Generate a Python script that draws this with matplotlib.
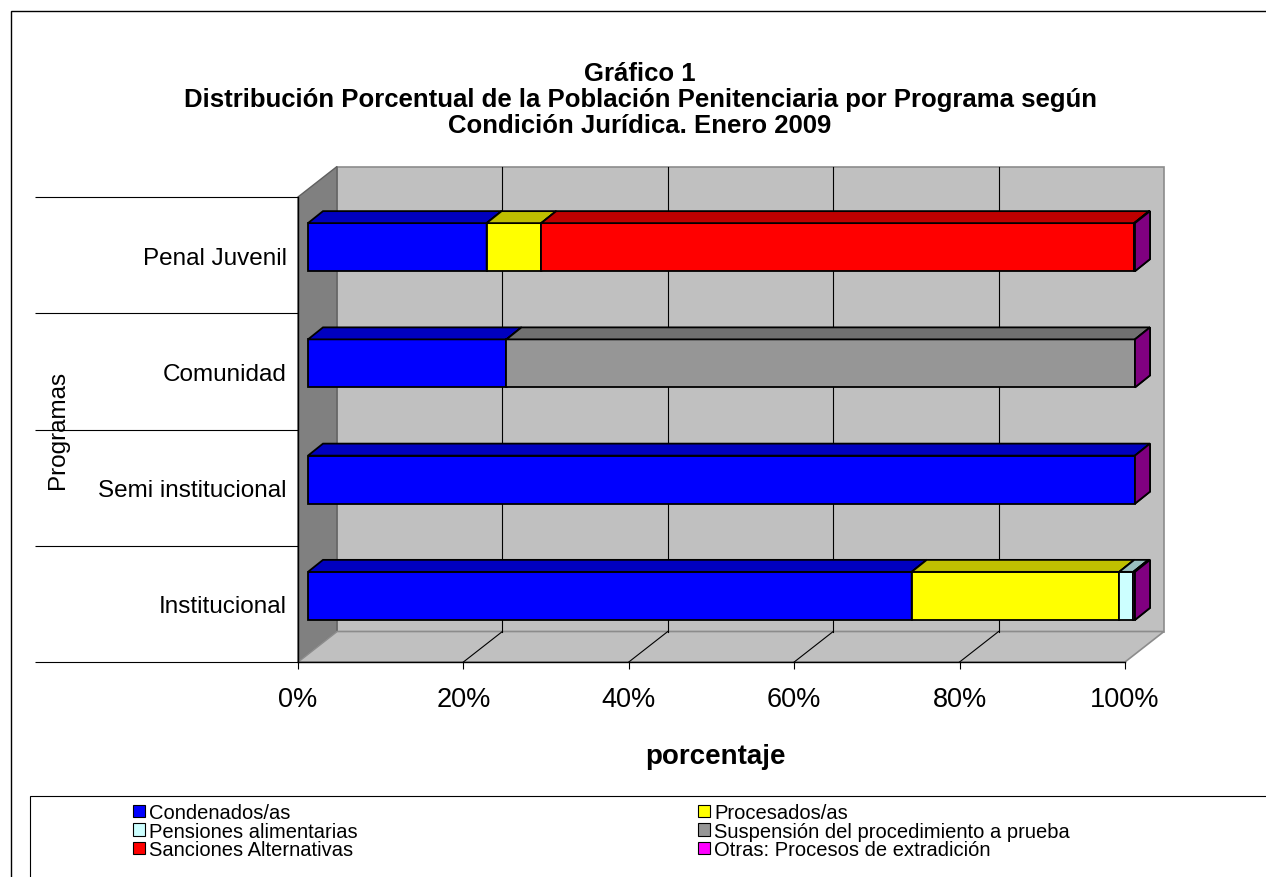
import numpy as np
import matplotlib.pyplot as plt
from matplotlib.patches import Polygon, Rectangle, Patch
from matplotlib.colors import to_rgb

# ---- datos ----
programas = ["Institucional", "Semi institucional", "Comunidad", "Penal Juvenil"]
series = ["Condenados/as", "Procesados/as", "Pensiones alimentarias",
          "Suspensión del procedimiento a prueba", "Sanciones Alternativas",
          "Otras: Procesos de extradición"]
condenados = [73.0, 100.0, 24.0, 21.6]
procesados = [25.1, 0.0, 0.0, 6.6]
pensiones = [1.7, 0.0, 0.0, 0.0]
suspension = [0.0, 0.0, 76.0, 0.0]
sanciones = [0.0, 0.0, 0.0, 71.7]
otras = [0.2, 0.0, 0.0, 0.1]
xticks = [0, 20, 40, 60, 80, 100]
xtick_labels = ["0%", "20%", "40%", "60%", "80%", "100%"]

colores = ["#0000FF", "#FFFF00", "#CCFFFF", "#969696", "#FF0000", "#FF00FF"]

# ---- geometria (pixeles de la figura) ----
W, H = 1266, 878
plt.rcParams['font.family'] = ['Liberation Sans', 'DejaVu Sans']

fig = plt.figure(figsize=(W / 100, H / 100), dpi=100)
ax = fig.add_axes([298 / W, 1 - 663 / H, (1125 - 298) / W, (663 - 198) / H])
ax.set_xlim(0, 100)
ax.set_ylim(0, 4)

sx = (1125 - 298) / 100.0      # px por unidad x
sy = (663 - 198) / 4.0         # px por unidad y
DX, DY = 39 / sx, 30.5 / sy    # profundidad total
fdx, fdy = 10 / sx, 8 / sy     # cara frontal de la barra
bdx, bdy = 15 / sx, 12 / sy    # profundidad de la barra
bar_h = 48 / sy


def shade(c, f):
    return tuple(v * f for v in to_rgb(c))


# paredes
ax.add_patch(Polygon([(DX, DY), (100 + DX, DY), (100 + DX, 4 + DY), (DX, 4 + DY)],
                     closed=True, fc="#C0C0C0", ec="#8C8C8C", lw=1.2, zorder=0, clip_on=False))
ax.add_patch(Polygon([(0, 0), (DX, DY), (DX, 4 + DY), (0, 4)],
                     closed=True, fc="#808080", ec="#606060", lw=1.0, zorder=0.5, clip_on=False))
ax.add_patch(Polygon([(0, 0), (100, 0), (100 + DX, DY), (DX, DY)],
                     closed=True, fc="#C0C0C0", ec="#8C8C8C", lw=1.2, zorder=0.5, clip_on=False))
for x in xticks[1:-1]:
    ax.plot([x + DX, x + DX], [DY, 4 + DY], color="black", lw=0.8, zorder=1, clip_on=False)
    ax.plot([x, x + DX], [0, DY], color="black", lw=0.8, zorder=1, clip_on=False)

# barras 3D
datos = [condenados, procesados, pensiones, suspension, sanciones, otras]
y = np.arange(len(programas)) + 0.5 + fdy
left = np.zeros(len(programas)) + fdx
for vals, col in zip(datos, colores):
    vals = np.array(vals)
    ax.barh(y, vals, left=left, height=bar_h, color=col, edgecolor="black",
            linewidth=1.3, zorder=3, clip_on=False)
    for i, v in enumerate(vals):
        if v <= 0:
            continue
        x0, x1 = left[i], left[i] + v
        yb, yt = y[i] - bar_h / 2, y[i] + bar_h / 2
        ax.add_patch(Polygon([(x0, yt), (x1, yt), (x1 + bdx, yt + bdy), (x0 + bdx, yt + bdy)],
                             closed=True, fc=shade(col, 0.75), ec="black", lw=1.3,
                             zorder=3, clip_on=False))
        ax.add_patch(Polygon([(x1, yb), (x1, yt), (x1 + bdx, yt + bdy), (x1 + bdx, yb + bdy)],
                             closed=True, fc=shade(col, 0.5), ec="black", lw=1.3,
                             zorder=3, clip_on=False))
    left = left + vals

# cara lateral final (serie Otras)
for i in range(len(programas)):
    x1 = left[i]
    yb, yt = y[i] - bar_h / 2, y[i] + bar_h / 2
    ax.add_patch(Polygon([(x1, yb), (x1, yt), (x1 + bdx, yt + bdy), (x1 + bdx, yb + bdy)],
                         closed=True, fc=shade(colores[-1], 0.5), ec="black", lw=1.3,
                         zorder=3.5, clip_on=False))

# ejes
for s in ["top", "right"]:
    ax.spines[s].set_visible(False)
ax.spines["left"].set_linewidth(1.0)
ax.spines["bottom"].set_linewidth(1.0)
ax.set_facecolor("none")
ax.set_xticks(xticks)
ax.set_xticklabels(xtick_labels, fontsize=19.5)
ax.tick_params(axis="x", length=5, width=0.8, pad=12.5)
ax.set_yticks(np.arange(len(programas)) + 0.5)
ax.set_yticklabels(programas, fontsize=17.5)
ax.tick_params(axis="y", which="major", length=0, pad=8)
ax.set_yticks(np.arange(len(programas) + 1), minor=True)
ax.tick_params(axis="y", which="minor", length=263 * 0.72, width=0.8)

fig.text(715 / W, 1 - 757 / H, "porcentaje", fontsize=20, fontweight="bold",
         ha="center", va="center")
fig.text(58 / W, 1 - 430 / H, "Programas", fontsize=17.5, rotation=90,
         ha="center", va="center")

# titulo
titulo = ["Gráfico 1",
          "Distribución Porcentual de la Población Penitenciaria por Programa según",
          "Condición Jurídica. Enero 2009"]
for k, t in enumerate(titulo):
    fig.text(640 / W, 1 - (74 + 26 * k) / H, t, fontsize=18.5, fontweight="bold",
             ha="center", va="center")

# marcos
fig.patches.append(Rectangle((11 / W, -0.1), 1.2, 1 - 12 / H + 0.1, transform=fig.transFigure,
                             fill=False, ec="black", lw=1.0))
fig.patches.append(Rectangle((30 / W, -0.1), 1.2, 1 - 797 / H + 0.1, transform=fig.transFigure,
                             fill=False, ec="black", lw=0.8))

# leyenda
handles = [Patch(fc=c, ec="black", lw=0.8) for c in colores]
for cols, xpos in [([0, 2, 4], 133), ([1, 3, 5], 698)]:
    fig.legend([handles[i] for i in cols], [series[i] for i in cols],
               loc="upper left", bbox_to_anchor=(xpos / W, 1 - 804 / H),
               frameon=False, fontsize=14.5, handlelength=0.6, handleheight=0.6,
               handletextpad=0.2, labelspacing=-0.02, borderpad=0, borderaxespad=0)

fig.savefig("out.png", dpi=100)
